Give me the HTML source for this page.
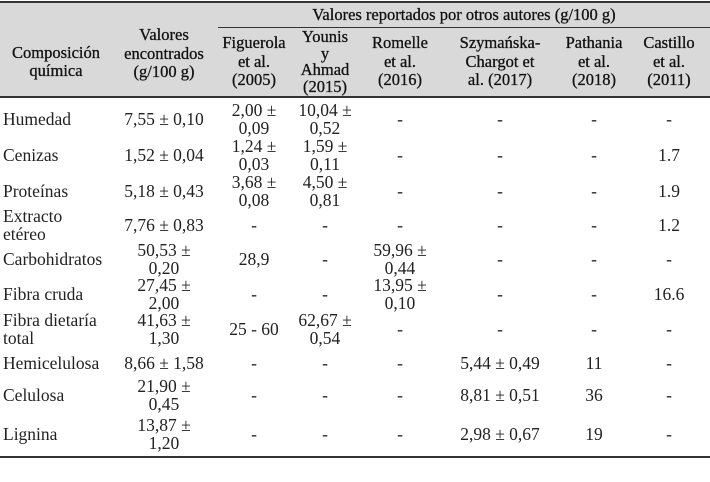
<!DOCTYPE html>
<html><head><meta charset="utf-8">
<style>
body{margin:0;width:710px;height:482px;background:#fff;position:relative;overflow:hidden;font-family:"Liberation Serif",serif;color:#222}
.hdr{position:absolute;left:0;top:2px;width:710px;height:95px;background:#d9d9d9}
.c{position:absolute;display:flex;align-items:center;justify-content:center;text-align:center;font-size:17.5px;line-height:18px;white-space:nowrap}
.l{justify-content:flex-start;text-align:left;padding-left:3px}
.h{font-size:16.5px;line-height:18.5px;color:#111;-webkit-text-stroke:0.3px #111}
.line{position:absolute;background:#333}
</style></head><body>
<div class="hdr"></div>
<div class="line" style="left:0;top:1px;width:710px;height:2px"></div>
<div class="line" style="left:218px;top:27px;width:492px;height:1px"></div>
<div class="line" style="left:0;top:96px;width:710px;height:2px"></div>
<div class="line" style="left:0;top:456px;width:710px;height:2px"></div>

<div class="c h" style="left:218px;top:4px;width:492px;height:22px">Valores reportados por otros autores (g/100 g)</div>
<div class="c h" style="left:0;top:28px;width:112px;height:68px">Composición<br>química</div>
<div class="c h" style="left:110px;top:12px;width:108px;height:84px">Valores<br>encontrados<br>(g/100 g)</div>
<div class="c h" style="left:218px;top:28px;width:72px;height:68px">Figuerola<br>et al.<br>(2005)</div>
<div class="c h" style="left:290px;top:28px;width:70px;height:68px;line-height:16.5px">Younis<br>y<br>Ahmad<br>(2015)</div>
<div class="c h" style="left:360px;top:28px;width:80px;height:68px">Romelle<br>et al.<br>(2016)</div>
<div class="c h" style="left:440px;top:28px;width:120px;height:68px">Szymańska-<br>Chargot et<br>al. (2017)</div>
<div class="c h" style="left:560px;top:28px;width:68px;height:68px">Pathania<br>et al.<br>(2018)</div>
<div class="c h" style="left:628px;top:28px;width:82px;height:68px">Castillo<br>et al.<br>(2011)</div>

<div id="body"></div>
<script>
const cols=[[0,110],[110,108],[218,72],[290,70],[360,80],[440,120],[560,68],[628,82]];
const rowTops=[100,137,173,208,242,276,311,347,378,411,456];
const rows=[
["Humedad","7,55 ± 0,10","2,00 ±<br>0,09","10,04 ±<br>0,52","-","-","-","-"],
["Cenizas","1,52 ± 0,04","1,24 ±<br>0,03","1,59 ±<br>0,11","-","-","-","1.7"],
["Proteínas","5,18 ± 0,43","3,68 ±<br>0,08","4,50 ±<br>0,81","-","-","-","1.9"],
["Extracto<br>etéreo","7,76 ± 0,83","-","-","-","-","-","1.2"],
["Carbohidratos","50,53 ±<br>0,20","28,9","-","59,96 ±<br>0,44","-","-","-"],
["Fibra cruda","27,45 ±<br>2,00","-","-","13,95 ±<br>0,10","-","-","16.6"],
["Fibra dietaría<br>total","41,63 ±<br>1,30","25 - 60","62,67 ±<br>0,54","-","-","-","-"],
["Hemicelulosa","8,66 ± 1,58","-","-","-","5,44 ± 0,49","11","-"],
["Celulosa","21,90 ±<br>0,45","-","-","-","8,81 ± 0,51","36","-"],
["Lignina","13,87 ±<br>1,20","-","-","-","2,98 ± 0,67","19","-"]];
const body=document.getElementById('body');
rows.forEach((r,i)=>{r.forEach((t,j)=>{
 const d=document.createElement('div');
 d.className='c'+(j==0?' l':'');
 d.style.left=cols[j][0]+'px';d.style.width=(cols[j][1]-(j==0?3:0))+'px';
 d.style.top=rowTops[i]+'px';d.style.height=(rowTops[i+1]-rowTops[i])+'px';
 d.innerHTML=t;
 
 
 body.appendChild(d);});});
</script>
</body></html>
